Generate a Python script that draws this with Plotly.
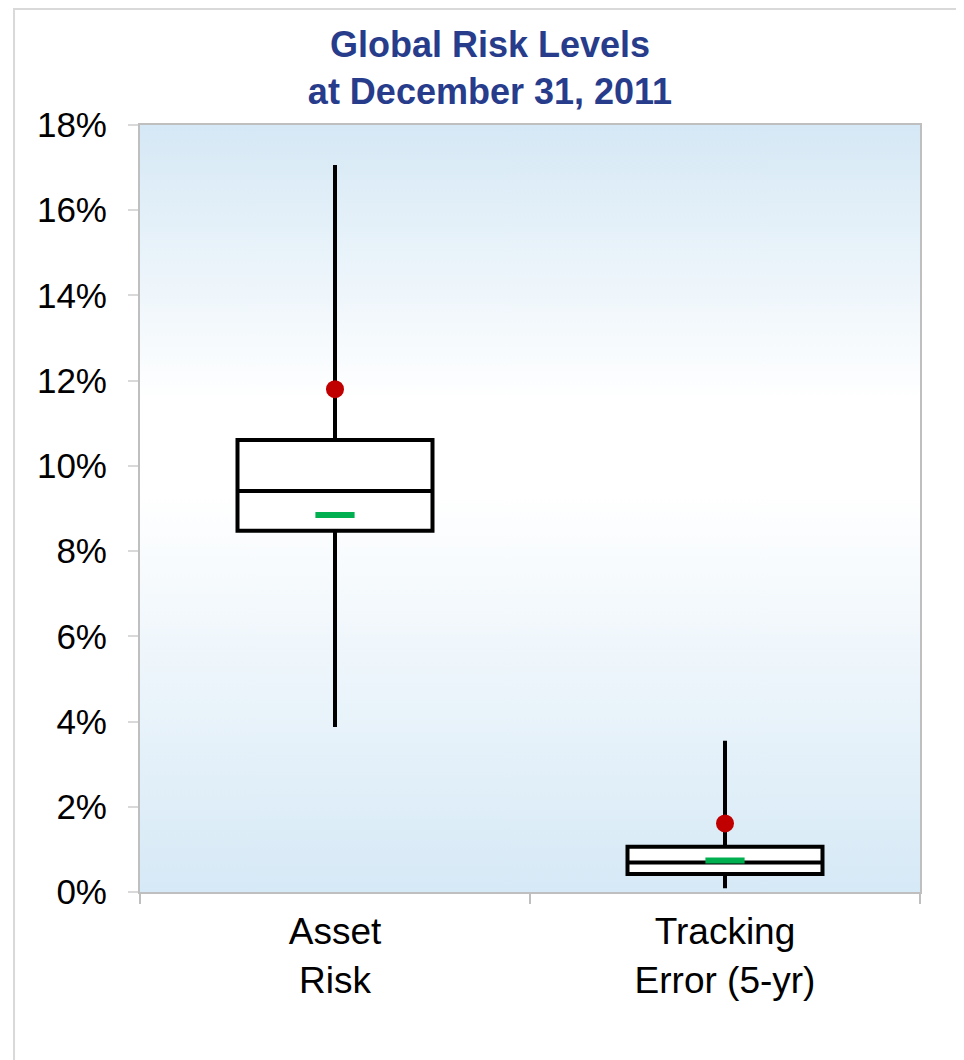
import base64
import plotly.graph_objects as go

# values (fractions, axis is formatted as %)
categories = ["Asset<br>Risk", "Tracking<br>Error (5-yr)"]
upper_whisker = [0.1706, 0.0355]
q3_values = [0.1061, 0.0106]
median_values = [0.0941, 0.0069]
q1_values = [0.0848, 0.0042]
lower_whisker = [0.0387, 0.0009]
mean_values = [0.1180, 0.0161]      # red dots
current_values = [0.0885, 0.0074]   # green dashes

y_ticks = [0, 0.02, 0.04, 0.06, 0.08, 0.10, 0.12, 0.14, 0.16, 0.18]

FONT = "Liberation Sans, Arial, sans-serif"

# vertical blue-white-blue gradient for the plot area
svg = (
    '<svg xmlns="http://www.w3.org/2000/svg" width="100" height="100" preserveAspectRatio="none">'
    '<defs><linearGradient id="g" x1="0" y1="0" x2="0" y2="1">'
    '<stop offset="0" stop-color="#d5e8f5"/>'
    '<stop offset="0.36" stop-color="#ffffff"/>'
    '<stop offset="0.48" stop-color="#ffffff"/>'
    '<stop offset="1" stop-color="#d6e9f6"/>'
    '</linearGradient></defs>'
    '<rect width="100" height="100" fill="url(#g)"/></svg>'
)
bg_uri = "data:image/svg+xml;base64," + base64.b64encode(svg.encode()).decode()

fig = go.Figure()

fig.add_trace(go.Box(
    x=categories,
    q1=q1_values,
    median=median_values,
    q3=q3_values,
    lowerfence=lower_whisker,
    upperfence=upper_whisker,
    width=0.5,
    whiskerwidth=0,
    fillcolor="white",
    line=dict(color="black", width=4),
    hoverinfo="y",
    showlegend=False,
))

fig.add_trace(go.Scatter(
    x=categories,
    y=mean_values,
    mode="markers",
    marker=dict(color="#c00000", size=18),
    showlegend=False,
))

fig.add_trace(go.Scatter(
    x=categories,
    y=current_values,
    mode="markers",
    marker=dict(symbol="line-ew", size=28, line=dict(color="#00b050", width=6)),
    showlegend=False,
))

fig.update_layout(
    width=964,
    height=1060,
    margin=dict(l=132, r=52, t=117, b=176),
    paper_bgcolor="white",
    plot_bgcolor="rgba(0,0,0,0)",
    font=dict(family=FONT, color="black"),
    title=dict(
        text="<b>Global Risk Levels<br>at December 31, 2011</b>",
        x=0.5,
        xanchor="center",
        y=0.954,
        yanchor="middle",
        font=dict(size=36, color="#283c8c", family=FONT),
    ),
    images=[dict(
        source=bg_uri, xref="paper", yref="paper", x=0, y=1,
        sizex=1, sizey=1, sizing="stretch", layer="below",
    )],
    shapes=[dict(
        type="rect", xref="paper", yref="paper",
        x0=-0.1615, x1=1.0538, y0=-0.3, y1=1.1512,
        line=dict(color="#d9d9d9", width=2),
    )],
)

fig.update_xaxes(
    range=[-0.5, 1.5],
    showline=True, mirror=True, linecolor="#bfbfbf", linewidth=2,
    ticks="outside", tickson="boundaries", ticklen=10,
    tickcolor="#bfbfbf", tickwidth=1.5,
    ticklabelstandoff=6,
    showgrid=False,
    tickfont=dict(size=37, family=FONT, color="black"),
)

fig.update_yaxes(
    range=[0, 0.18],
    tickvals=y_ticks,
    tickformat=".0%",
    showline=True, mirror=True, linecolor="#bfbfbf", linewidth=2,
    ticks="outside", ticklen=10, tickcolor="#d9d9d9", tickwidth=1.5,
    ticklabelstandoff=14,
    showgrid=False, zeroline=False,
    tickfont=dict(size=35, family=FONT, color="black"),
)

fig.write_html("out.html")
